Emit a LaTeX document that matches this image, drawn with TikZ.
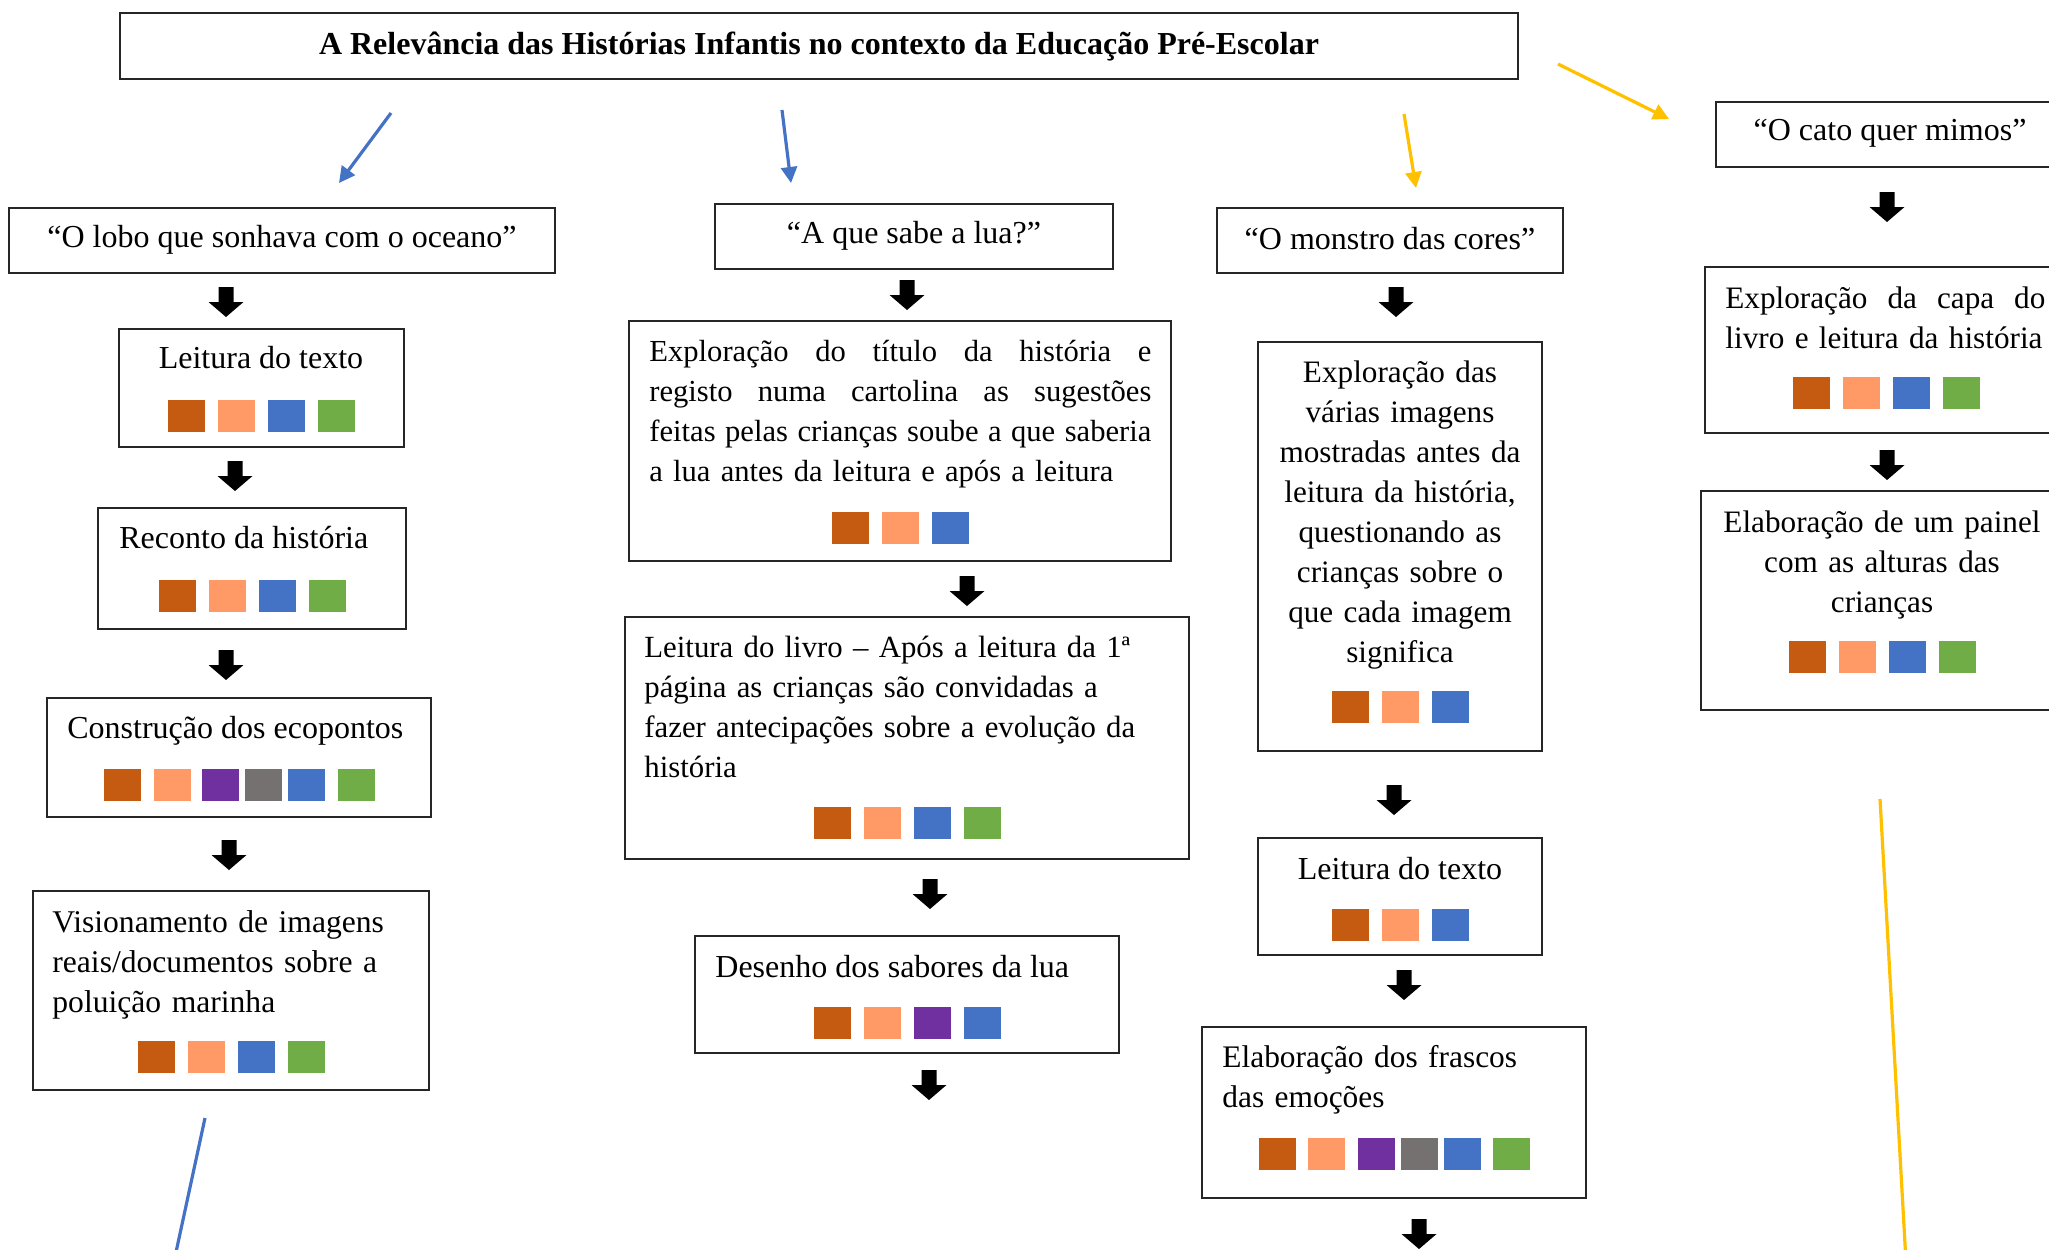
\documentclass[tikz,border=0pt]{standalone}
\usepackage{fontspec}
\setmainfont{Liberation Serif}
\usetikzlibrary{arrows.meta,fit}
\definecolor{chipbrown}{RGB}{197,90,17}
\definecolor{chipsalmon}{RGB}{255,153,102}
\definecolor{chippurple}{RGB}{112,48,160}
\definecolor{chipgrey}{RGB}{118,113,113}
\definecolor{chipblue}{RGB}{68,114,196}
\definecolor{chipgreen}{RGB}{112,173,71}
\definecolor{linkblue}{RGB}{68,114,196}
\definecolor{linkgold}{RGB}{255,192,0}
\newcommand{\chips}[3]{\foreach \dx/\col in {#3}{\fill[\col] ({#1+\dx-18.5},{#2-16}) rectangle ++(37,32);}}
\newcommand{\spreadline}[2]{\leavevmode\hbox to #1{#2}}

\begin{document}
\begin{tikzpicture}[x=0.5pt,y=-0.5pt,box/.style={draw=black!85,line width=0.6pt,inner sep=0pt},txt/.style={inner sep=0pt,font=\fontsize{16}{20}\selectfont},small/.style={font=\fontsize{#1}{20}\selectfont},link/.style={-{Triangle[length=8pt,width=8pt]},line width=1.6pt},drop/.pic={\fill (-7.5,0) rectangle (7.5,15) (-17.5,15) -- (17.5,15) -- (0,30) -- cycle;}]
\clip (0,0) rectangle (2049,1249);
\node[box,fit={(120,13) (1518,79)}] (title) {};
\node[txt,yshift=-0.5pt,font=\fontsize{16}{20}\selectfont\bfseries] (titlet) at (title.center) {A Relevância das Histórias Infantis no contexto da Educação Pré-Escolar};
% primeira coluna
\node[box,fit={(9,208) (555,273)}] (lobo) {};
\node[txt,yshift=0.5pt] (lobot) at (lobo.center) {“O lobo que sonhava com o oceano”};
\node[box,fit={(119,329) (404,447)}] (lobo1) {};
\node[txt,anchor=base] (lobo1t) at (261,368) {Leitura do texto};
\chips{261}{415.5}{-75/chipbrown,-25/chipsalmon,25/chipblue,75/chipgreen}
\node[box,fit={(98,508) (406,629)}] (lobo2) {};
\node[txt,anchor=base west] (lobo2t) at (119,548) {Reconto da história};
\chips{252}{596}{-75/chipbrown,-25/chipsalmon,25/chipblue,75/chipgreen}
\node[box,fit={(47,698) (431,817)}] (lobo3) {};
\node[txt,anchor=base west] (lobo3t) at (67,738) {Construção dos ecopontos};
\chips{239}{785}{-117/chipbrown,-67/chipsalmon,-19/chippurple,24/chipgrey,67/chipblue,117/chipgreen}
\node[box,fit={(33,891) (429,1090)}] (lobo4) {};
\node[txt,small=15.8,anchor=base west,text width=185pt] (lobo4t) at (52,932) {Visionamento de imagens\\reais/documentos sobre a\\poluição marinha};
\chips{231}{1057}{-75/chipbrown,-25/chipsalmon,25/chipblue,75/chipgreen}
% segunda coluna
\node[box,fit={(715,204) (1113,269)}] (lua) {};
\node[txt,yshift=0.5pt] (luat) at (lua.center) {“A que sabe a lua?”};
\node[box,fit={(629,321) (1171,561)}] (lua1) {};
\node[txt,small=15.3,anchor=base west,text width=251pt] (lua1t) at (649,361) {\spreadline{251pt}{Exploração\hfill do\hfill título\hfill da\hfill história\hfill e}\\\spreadline{251pt}{registo\hfill numa\hfill cartolina\hfill as\hfill sugestões}\\\spreadline{251pt}{feitas\hfill pelas\hfill crianças\hfill soube\hfill a\hfill que\hfill saberia}\\a lua antes da leitura e após a leitura};
\chips{900}{528}{-50/chipbrown,0/chipsalmon,50/chipblue}
\node[box,fit={(625,617) (1189,859)}] (lua2) {};
\node[txt,small=15.4,anchor=base west,text width=272pt] (lua2t) at (644,657) {Leitura do livro – Após a leitura da 1ª\\página as crianças são convidadas a\\fazer antecipações sobre a evolução da\\história};
\chips{907}{823}{-75/chipbrown,-25/chipsalmon,25/chipblue,75/chipgreen}
\node[box,fit={(695,936) (1119,1053)}] (lua3) {};
\node[txt,anchor=base west] (lua3t) at (715,977) {Desenho dos sabores da lua};
\chips{907}{1023}{-75/chipbrown,-25/chipsalmon,25/chippurple,75/chipblue}
% terceira coluna
\node[box,fit={(1217,208) (1563,273)}] (monstro) {};
\node[txt,yshift=1pt] (monstrot) at (monstro.center) {“O monstro das cores”};
\node[box,fit={(1258,342) (1542,751)}] (monstro1) {};
\node[txt,small=15.6,anchor=base,text width=138pt,align=center] (monstro1t) at (1400,382) {Exploração das\\várias imagens\\mostradas antes da\\leitura da história,\\questionando as\\crianças sobre o\\que cada imagem\\significa};
\chips{1400}{707}{-50/chipbrown,0/chipsalmon,50/chipblue}
\node[box,fit={(1258,838) (1542,955)}] (monstro2) {};
\node[txt,anchor=base] (monstro2t) at (1400,879) {Leitura do texto};
\chips{1400}{925}{-50/chipbrown,0/chipsalmon,50/chipblue}
\node[box,fit={(1202,1027) (1586,1198)}] (monstro3) {};
\node[txt,small=15.7,anchor=base west,text width=180pt] (monstro3t) at (1222,1067) {Elaboração dos frascos\\das emoções};
\chips{1394}{1154}{-117/chipbrown,-68/chipsalmon,-18/chippurple,25/chipgrey,68/chipblue,117/chipgreen}
% quarta coluna
\node[box,fit={(1716,102) (2064,167)}] (cato) {};
\node[txt,yshift=0.5pt] (catot) at (cato.center) {“O cato quer mimos”};
\node[box,fit={(1705,267) (2067,433)}] (cato1) {};
\node[txt,small=15.6,anchor=base west,text width=200pt] (cato1t) at (1725,308) {\spreadline{160pt}{Exploração\hfill da\hfill capa\hfill do}\\livro e leitura da história};
\chips{1886}{393}{-75/chipbrown,-25/chipsalmon,25/chipblue,75/chipgreen}
\node[box,fit={(1701,491) (2063,710)}] (cato2) {};
\node[txt,small=15.6,anchor=base,text width=175pt,align=center] (cato2t) at (1882,532) {Elaboração de um painel\\com as alturas das\\crianças};
\chips{1882}{657}{-75/chipbrown,-25/chipsalmon,25/chipblue,75/chipgreen}
% setas pretas
\foreach \x/\y in {226/287,235/461,226/650,229/840,907/280,967/576,930/879,929/1070,1396/287,1394/785,1404/970,1419/1219,1887/192,1887/450} \pic at (\x,\y) {drop};
% ligações
\coordinate (lA) at (391,113); \coordinate (lB) at (339,183);
\coordinate (uA) at (782,110); \coordinate (uB) at (791,183);
\coordinate (mA) at (1404,114); \coordinate (mB) at (1416,188);
\coordinate (cA) at (1558,64); \coordinate (cB) at (1669,119);
\coordinate (lC) at (205,1118); \coordinate (lD) at (170,1280);
\coordinate (cC) at (1880,799); \coordinate (cD) at (1907,1280);
\draw[link,linkblue] (lA) -- (lB);
\draw[link,linkblue] (uA) -- (uB);
\draw[link,linkgold] (mA) -- (mB);
\draw[link,linkgold] (cA) -- (cB);
\draw[linkblue,line width=1.6pt] (lC) -- (lD);
\draw[linkgold,line width=1.6pt] (cC) -- (cD);
\end{tikzpicture}
\end{document}
